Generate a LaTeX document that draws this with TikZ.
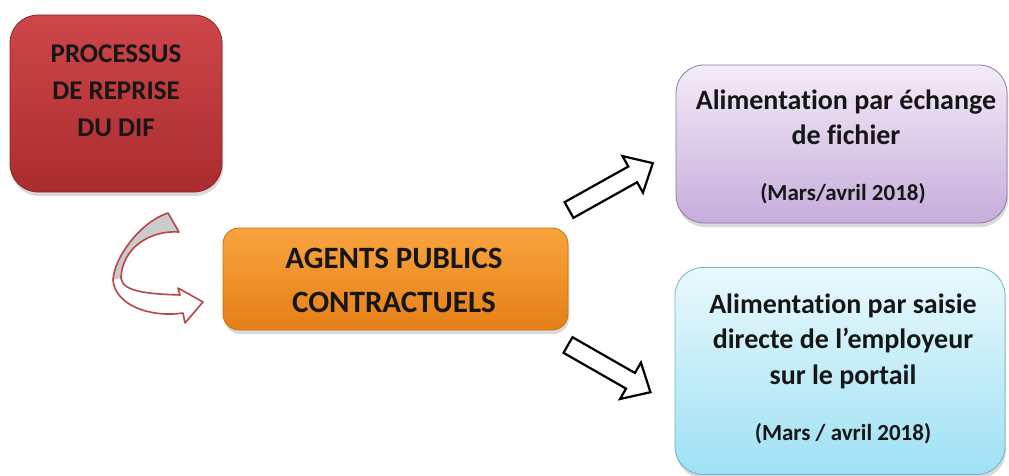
\documentclass[tikz,border=0pt]{standalone}
\usepackage{fontspec}
\setmainfont{Carlito}[Ligatures={TeX,NoCommon,NoContextual}]
\usetikzlibrary{shadows}
\definecolor{redtop}{HTML}{CE4649}
\definecolor{redbot}{HTML}{AA2C2F}
\definecolor{redline}{HTML}{8E2628}
\definecolor{ortop}{HTML}{F9A43E}
\definecolor{orbot}{HTML}{E57F17}
\definecolor{orline}{HTML}{C8700F}
\definecolor{putop}{HTML}{F4ECF8}
\definecolor{pubot}{HTML}{C6ACDB}
\definecolor{puline}{HTML}{8C7B9C}
\definecolor{cytop}{HTML}{EAF9FD}
\definecolor{cybot}{HTML}{9DE1F4}
\definecolor{cyline}{HTML}{6DB6CA}
\definecolor{txtcol}{HTML}{161616}
\definecolor{ribline}{HTML}{B94647}
\definecolor{ribgray}{HTML}{CBCBCB}
\begin{document}
\begin{tikzpicture}[x=1pt,y=-1pt,
  boxbase/.style={inner sep=0pt, line width=0.8pt,
    drop shadow={opacity=0.3,shadow xshift=1pt,shadow yshift=-4pt}},
  redbox/.style={boxbase, draw=redline, top color=redtop, bottom color=redbot, rounded corners=28pt},
  orbox/.style={boxbase, draw=orline, top color=ortop, bottom color=orbot, rounded corners=16pt},
  pubox/.style={boxbase, draw=puline, top color=putop, bottom color=pubot, rounded corners=28pt},
  cybox/.style={boxbase, draw=cyline, top color=cytop, bottom color=cybot, rounded corners=28pt},
  lineA/.style={anchor=base, inner sep=0pt, text=txtcol, font=\bfseries\fontsize{27}{27}\selectfont},
  lineB/.style={anchor=base, inner sep=0pt, text=txtcol, font=\bfseries\fontsize{31}{31}\selectfont},
  lineC/.style={anchor=base, inner sep=0pt, text=txtcol, font=\bfseries\fontsize{28}{28}\selectfont},
  lineD/.style={anchor=base, inner sep=0pt, text=txtcol, font=\bfseries\fontsize{23}{23}\selectfont},
  blockarrow/.style={draw=black, fill=white, line width=2.2pt, line join=miter},
  ribbon/.style={draw=ribline, line width=1.6pt, line join=round}
]
\useasboundingbox (0,0) rectangle (1009,476);

% boxes
\node[redbox, minimum width=212pt, minimum height=177pt] (dif) at (116,103.5) {};
\node[orbox, minimum width=345pt, minimum height=102pt] (agents) at (395.5,279) {};
\node[pubox, minimum width=331pt, minimum height=158pt] (fichier) at (841.5,144) {};
\node[cybox, minimum width=330pt, minimum height=207pt] (saisie) at (840,371) {};

% texts
\node[lineA] (t1) at (116,63) {PROCESSUS};
\node[lineA] (t2) at (116,100) {DE REPRISE};
\node[lineA] (t3) at (116,137) {DU DIF};

\node[lineB] (t4) at (394,268) {AGENTS PUBLICS};
\node[lineB] (t5) at (394,312) {CONTRACTUELS};

\node[lineC] (t6) at (846,110) {Alimentation par échange};
\node[lineC] (t7) at (846,145) {de fichier};
\node[lineD] (t8) at (843,200) {(Mars/avril 2018)};

\node[lineC] (t9) at (843,313) {Alimentation par saisie};
\node[lineC] (t10) at (843,348) {directe de l’employeur};
\node[lineC] (t11) at (843,384) {sur le portail};
\node[lineD] (t12) at (843,440) {(Mars / avril 2018)};

% block arrows
\coordinate (ua) at (569,210);
\coordinate (la) at (568,345);
\begin{scope}[shift={(ua)}, rotate=29.2]
  \draw[blockarrow] (0,-9) -- (73,-9) -- (73,-21) -- (96,0) -- (73,21) -- (73,9) -- (0,9) -- cycle;
\end{scope}
\begin{scope}[shift={(la)}, rotate=-29.8]
  \draw[blockarrow] (0,-9) -- (72,-9) -- (72,-21) -- (95,0) -- (72,21) -- (72,9) -- (0,9) -- cycle;
\end{scope}

% curved ribbon arrow
\fill[white] (168,213) -- (179,232) .. controls (150,230) and (122,248) .. (121,278)
  .. controls (122,292) and (150,294) .. (180,295) -- (178,288) -- (203,302) -- (185,323) -- (183,313)
  .. controls (150,318) and (115,305) .. (113,280)
  .. controls (114,258) and (140,222) .. (168,213) -- cycle;
\fill[ribgray] (168,213) -- (179,232) .. controls (150,230) and (122,248) .. (121,278)
  -- (113,280) .. controls (114,258) and (140,222) .. (168,213) -- cycle;
\draw[ribbon] (168,213) -- (179,232) .. controls (150,230) and (122,248) .. (121,278)
  .. controls (122,292) and (150,294) .. (180,295) -- (178,288) -- (203,302) -- (185,323) -- (183,313)
  .. controls (150,318) and (115,305) .. (113,280)
  .. controls (114,258) and (140,222) .. (168,213) -- cycle;
\end{tikzpicture}
\end{document}
